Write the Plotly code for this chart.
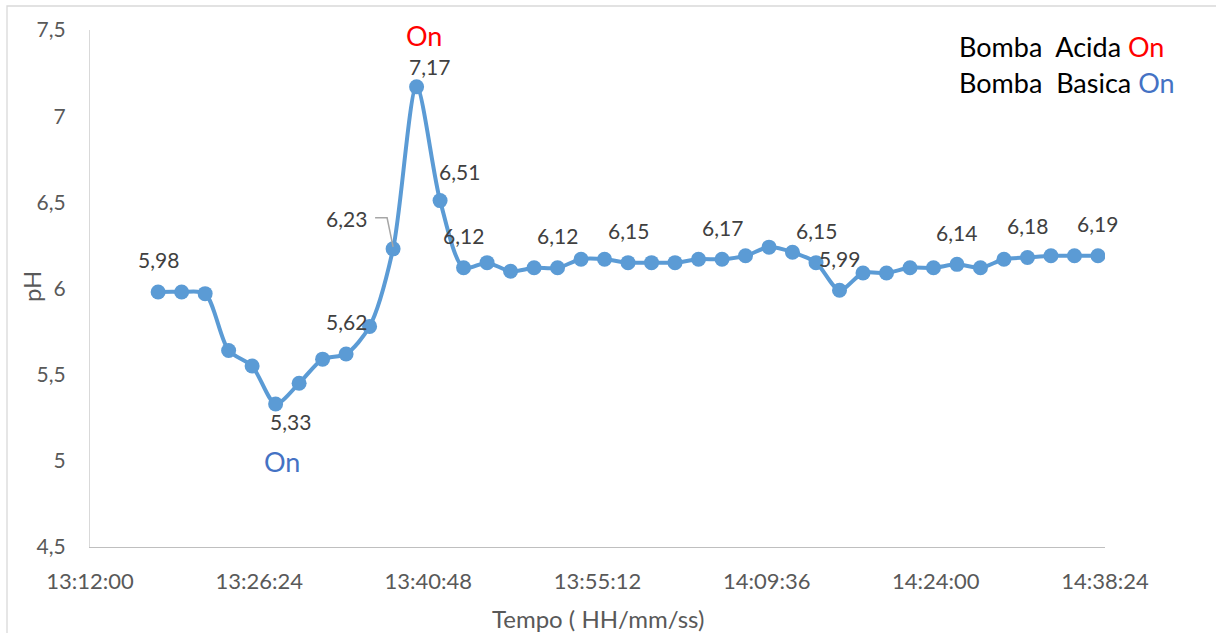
import plotly.graph_objects as go

# ---- data ----
day = "2024-01-01 "
times = ["13:17:48", "13:19:48", "13:21:48", "13:23:48", "13:25:48", "13:27:48", "13:29:48",
         "13:31:48", "13:33:48", "13:35:48", "13:37:48", "13:39:48", "13:41:48", "13:43:48",
         "13:45:48", "13:47:48", "13:49:48", "13:51:48", "13:53:48", "13:55:48", "13:57:48",
         "13:59:48", "14:01:48", "14:03:48", "14:05:48", "14:07:48", "14:09:48", "14:11:48",
         "14:13:48", "14:15:48", "14:17:48", "14:19:48", "14:21:48", "14:23:48", "14:25:48",
         "14:27:48", "14:29:48", "14:31:48", "14:33:48", "14:35:48", "14:37:48"]
ph = [5.98, 5.98, 5.97, 5.64, 5.55, 5.33, 5.45, 5.59, 5.62, 5.78, 6.23, 7.17, 6.51, 6.12,
      6.15, 6.10, 6.12, 6.12, 6.17, 6.17, 6.15, 6.15, 6.15, 6.17, 6.17, 6.19, 6.24, 6.21,
      6.15, 5.99, 6.09, 6.09, 6.12, 6.12, 6.14, 6.12, 6.17, 6.18, 6.19, 6.19, 6.19]
labeled_points = [0, 5, 8, 10, 11, 12, 13, 17, 20, 24, 28, 29, 34, 37, 40]

x_tick_labels = ["13:12:00", "13:26:24", "13:40:48", "13:55:12", "14:09:36", "14:24:00", "14:38:24"]
y_tick_vals = [4.5, 5, 5.5, 6, 6.5, 7, 7.5]
y_tick_labels = ["4,5", "5", "5,5", "6", "6,5", "7", "7,5"]

# ---- styling ----
W, H = 1216, 633
L, R, T, B = 90, 1216 - 1105, 30, 633 - 547
FONT = "Lato"
LINE_COLOR = "#5B9BD5"

def px(xp):
    return (xp - L) / (W - L - R)

def py(yp):
    return 1 - (yp - T) / (H - T - B)

xs = [day + t for t in times]

fig = go.Figure()
fig.add_trace(go.Scatter(
    x=xs, y=ph, mode="lines+markers",
    line=dict(color=LINE_COLOR, width=4, shape="spline", smoothing=0.8),
    marker=dict(color=LINE_COLOR, size=15),
    hoverinfo="skip", showlegend=False,
))

# label offsets (pixels) for special points
offsets = {5: (15, -18), 10: (-47, 30), 11: (13, 20), 12: (19, 29)}
annotations = []
for i in labeled_points:
    dx, dy = offsets.get(i, (0, 32))
    annotations.append(dict(
        x=xs[i], y=ph[i], xref="x", yref="y", showarrow=False,
        xanchor="center", yanchor="middle",
        text=f"{ph[i]:.2f}".replace(".", ","),
        xshift=dx, yshift=dy,
        font=dict(family=FONT, size=21, color="#404040"),
    ))

def paper_text(xp, yp, text, size, color, angle=0):
    return dict(x=px(xp), y=py(yp), xref="paper", yref="paper", showarrow=False,
                xanchor="center", yanchor="middle", text=text, textangle=angle,
                font=dict(family=FONT, size=size, color=color))

# "On" markers
annotations.append(paper_text(424, 35, "On", 27, "#FF0000"))
annotations.append(paper_text(282, 461, "On", 27, "#4472C4"))
# legend-like text box
annotations.append(paper_text(1061, 47, "Bomba  Acida <span style='color:#FF0000'>On</span>", 27, "#000000"))
annotations.append(paper_text(1067, 83, "Bomba  Basica <span style='color:#4472C4'>On</span>", 27, "#000000"))
# axis titles
annotations.append(paper_text(598, 618, "Tempo ( HH/mm/ss)", 24, "#595959"))
annotations.append(paper_text(31, 287, "pH", 24, "#595959", angle=-90))

shapes = [
    # chart frame
    dict(type="rect", xref="paper", yref="paper", x0=px(7), x1=px(1240), y0=py(6), y1=py(660),
         line=dict(color="#D9D9D9", width=1.3), fillcolor="rgba(0,0,0,0)", layer="below"),
    # leader line for 6,23
    dict(type="path", xref="x", yref="y", xsizemode="pixel", ysizemode="pixel",
         xanchor=xs[10], yanchor=ph[10], path="M -18,31 L -6,31 L 0,2",
         line=dict(color="#A6A6A6", width=1.5)),
]

tick_dates = ["2024-01-01 13:12:00", "2024-01-01 13:26:24", "2024-01-01 13:40:48",
              "2024-01-01 13:55:12", "2024-01-01 14:09:36", "2024-01-01 14:24:00",
              "2024-01-01 14:38:24"]

fig.update_layout(
    width=W, height=H, margin=dict(l=L, r=R, t=T, b=B, pad=0),
    paper_bgcolor="white", plot_bgcolor="white",
    annotations=annotations, shapes=shapes,
    xaxis=dict(
        type="date", range=[tick_dates[0], tick_dates[-1]],
        tickvals=tick_dates, ticktext=x_tick_labels,
        showgrid=False, zeroline=False,
        showline=True, linecolor="#BFBFBF", linewidth=1.3,
        ticks="outside", ticklen=14, tickcolor="rgba(0,0,0,0)",
        tickfont=dict(family=FONT, size=22, color="#595959"),
    ),
    yaxis=dict(
        range=[4.5, 7.5], tickvals=y_tick_vals, ticktext=y_tick_labels,
        showgrid=False, zeroline=False,
        showline=True, linecolor="#D9D9D9", linewidth=1.3,
        ticks="outside", ticklen=19, tickcolor="rgba(0,0,0,0)",
        tickfont=dict(family=FONT, size=21, color="#595959"),
    ),
)

fig.write_html("out.html")
